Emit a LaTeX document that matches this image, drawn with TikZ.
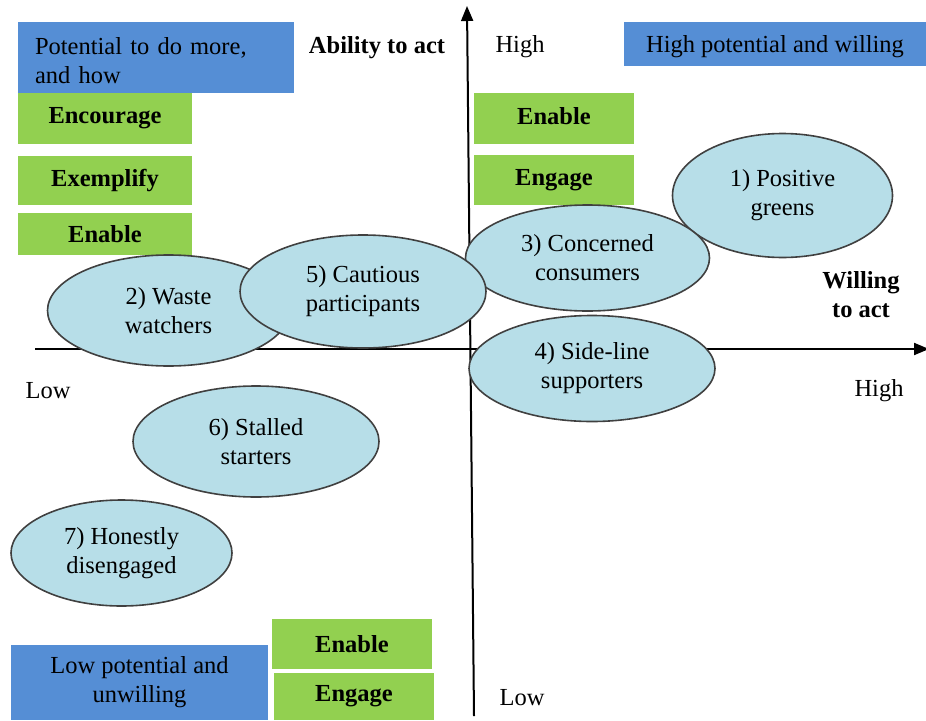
\documentclass[tikz,border=0pt]{standalone}
\usepackage{fontspec}
\setmainfont{Liberation Serif}
\usetikzlibrary{shapes.geometric,arrows.meta}

\definecolor{boxblue}{RGB}{85,142,213}
\definecolor{boxgreen}{RGB}{146,208,80}
\definecolor{segfill}{RGB}{183,222,232}
\definecolor{segline}{RGB}{64,64,64}

\tikzset{
  txt/.style={font=\fontsize{24.5}{29}\selectfont, text=black},
  boldtxt/.style={txt, font=\fontsize{24.5}{29}\selectfont\bfseries},
  bluebox/.style={txt, fill=boxblue, draw=none, rectangle, inner sep=0pt, align=center},
  greenbox/.style={boldtxt, fill=boxgreen, draw=none, rectangle, inner sep=0pt},
  segment/.style={txt, ellipse, fill=segfill, draw=segline, line width=1.6pt, inner sep=0pt, align=center},
  axis/.style={line width=2pt, -{Triangle[length=15pt,width=12pt]}},
  axislabel/.style={txt},
}

\begin{document}
\begin{tikzpicture}[x=1pt,y=-1pt]
\useasboundingbox (0,0) rectangle (926,720);

% axes
\coordinate (ybot) at (474,716);
\coordinate (ytop) at (467,6);
\coordinate (xleft) at (35,349);
\coordinate (xright) at (929,349);
\draw[axis] (ybot) -- (ytop);
\draw[axis] (xleft) -- (xright);

% axis labels
\node[boldtxt] (ability) at (377,48) {Ability to act};
\node[boldtxt, align=center] (willing) at (861,295) {Willing\\ to act};
\node[axislabel] (yhigh) at (520,47) {High};
\node[axislabel] (ylow) at (522,698) {Low};
\node[axislabel] (xlow) at (48,391) {Low};
\node[axislabel] (xhigh) at (879,391) {High};

% quadrant headings
\node[bluebox, minimum width=276pt, minimum height=71pt,
      label={[txt, align=left, text width=242pt, inner sep=0pt, yshift=-3pt]center:{Potential to do more,\\and how}}]
      (potential) at (156,57.5) {};
\node[bluebox, minimum width=302pt, minimum height=44pt,
      label={[txt, inner sep=0pt, yshift=-3pt]center:High potential and willing}]
      (highpot) at (775,44) {};
\node[bluebox, minimum width=257pt, minimum height=75pt] (lowpot) at (139.5,682.5) {Low potential and\\unwilling};

% actions
\node[greenbox, minimum width=174pt, minimum height=51pt] (encourage) at (105,118.5) {Encourage};
\node[greenbox, minimum width=174pt, minimum height=49pt] (exemplify) at (105,180.5) {Exemplify};
\node[greenbox, minimum width=174pt, minimum height=42pt] (enableL) at (105,234) {Enable};
\node[greenbox, minimum width=160pt, minimum height=51pt,
      label={[boldtxt, inner sep=0pt, yshift=2pt]center:Enable}] (enableR) at (554,118.5) {};
\node[greenbox, minimum width=160pt, minimum height=50pt] (engageR) at (554,180) {Engage};
\node[greenbox, minimum width=160pt, minimum height=50pt] (enableB) at (352,644) {Enable};
\node[greenbox, minimum width=160pt, minimum height=47pt] (engageB) at (354,696.5) {Engage};

% segments
\node[segment, minimum width=220pt, minimum height=124pt] (s1) at (782.5,195.5) {1) Positive\\greens};
\node[segment, minimum width=244pt, minimum height=106pt] (s3) at (587.5,258) {3) Concerned\\consumers};
\node[segment, minimum width=246pt, minimum height=106pt] (s4) at (592,368.5) {4) Side-line\\supporters};
\node[segment, minimum width=242pt, minimum height=111pt] (s2) at (168.5,310.5) {2) Waste\\watchers};
\node[segment, minimum width=246pt, minimum height=111pt] (s6) at (256,441.5) {6) Stalled\\starters};
\node[segment, minimum width=221pt, minimum height=106pt] (s7) at (121.5,553) {7) Honestly\\disengaged};
\node[segment, minimum width=246pt, minimum height=113pt] (s5) at (363,291.5) {5) Cautious\\participants};
\end{tikzpicture}
\end{document}
